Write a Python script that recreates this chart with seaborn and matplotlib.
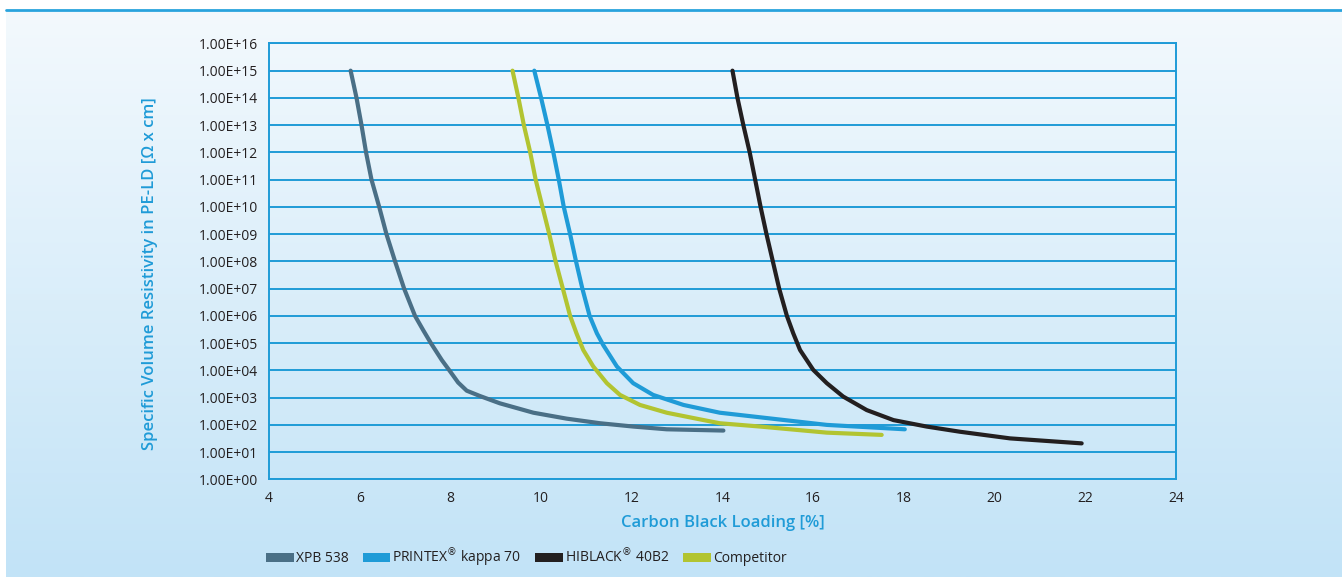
import matplotlib
matplotlib.use('Agg')
import matplotlib.pyplot as plt
import numpy as np
import pandas as pd
import seaborn as sns
from matplotlib.colors import LinearSegmentedColormap
from matplotlib.lines import Line2D
from matplotlib.patches import Patch

# carbon black loading [%] and resistivity [Ohm x cm]
xpb_x = [5.80, 5.93, 6.04, 6.14, 6.26, 6.43, 6.59, 6.78, 6.98, 7.22, 7.40, 7.57,
         7.81, 8.0, 8.17, 8.36, 8.65, 9.09, 9.83, 10.56, 11.30, 12.03, 12.77, 14.02]
xpb_y = [1e15, 1e14, 1e13, 1e12, 1e11, 1e10, 1e9, 1e8, 1e7, 1e6, 3.0e5, 1e5,
         2.4e4, 8.9e3, 3.6e3, 1.8e3, 1.15e3, 6.2e2, 2.8e2, 1.7e2, 1.15e2, 8.7e1, 6.9e1, 6.2e1]

printex_x = [9.85, 10.0, 10.14, 10.27, 10.39, 10.5, 10.64, 10.77, 10.91, 11.07,
             11.23, 11.37, 11.67, 12.03, 12.47, 13.14, 13.94, 14.83, 16.3, 18.02]
printex_y = [1e15, 1e14, 1e13, 1e12, 1e11, 1e10, 1e9, 1e8, 1e7, 1e6,
             2.3e5, 8.5e4, 1.4e4, 3.4e3, 1.26e3, 5.4e2, 2.8e2, 1.9e2, 1.0e2, 6.9e1]

hiblack_x = [14.22, 14.33, 14.46, 14.6, 14.72, 14.84, 14.97, 15.11, 15.25, 15.42,
             15.56, 15.71, 16.0, 16.30, 16.66, 17.18, 17.77, 18.50, 19.24, 20.34, 21.92]
hiblack_y = [1e15, 1e14, 1e13, 1e12, 1e11, 1e10, 1e9, 1e8, 1e7, 1e6,
             2.3e5, 5.6e4, 1.05e4, 3.4e3, 1.1e3, 3.5e2, 1.5e2, 8.7e1, 5.6e1, 3.2e1, 2.1e1]

competitor_x = [9.37, 9.50, 9.62, 9.76, 9.88, 10.03, 10.18, 10.32, 10.48, 10.64,
                10.78, 10.93, 11.15, 11.45, 11.74, 12.18, 12.77, 13.50, 13.94, 14.83,
                16.3, 17.51]
competitor_y = [1e15, 1e14, 1e13, 1e12, 1e11, 1e10, 1e9, 1e8, 1e7, 1e6,
                2.3e5, 5.6e4, 1.4e4, 3.4e3, 1.26e3, 5.4e2, 2.8e2, 1.6e2, 1.15e2, 8.7e1,
                5.2e1, 4.3e1]

series_names = ['XPB 538', 'PRINTEX$^{\u00ae}$ kappa 70', 'HIBLACK$^{\u00ae}$ 40B2', 'Competitor']
series_colors = ['#4a6f86', '#1f9bd7', '#231f20', '#b2c431']

x_ticks = [4, 6, 8, 10, 12, 14, 16, 18, 20, 22, 24]
y_exponents = list(range(0, 17))

frames = []
for name, xs, ys in zip(series_names,
                        [xpb_x, printex_x, hiblack_x, competitor_x],
                        [xpb_y, printex_y, hiblack_y, competitor_y]):
    frames.append(pd.DataFrame({'loading': xs, 'resistivity': ys, 'series': name}))
df = pd.concat(frames, ignore_index=True)

sns.set_style('white')
plt.rcParams['font.family'] = ['Open Sans', 'DejaVu Sans']

blue = '#1f9bd7'
dark = '#231f20'

fig = plt.figure(figsize=(13.42, 5.77), dpi=100)

# gradient background panel
bg = fig.add_axes([6 / 1342, 0, 1 - 6 / 1342, 1 - 11 / 577], zorder=-10)
grad_cmap = LinearSegmentedColormap.from_list('bg', ['#f3f9fd', '#c2e3f7'])
bg.imshow(np.linspace(0, 1, 256).reshape(-1, 1), aspect='auto', cmap=grad_cmap)
bg.axis('off')
fig.add_artist(Line2D([6 / 1342, 1], [1 - 10 / 577, 1 - 10 / 577], color='#29a3dd', lw=2))

ax = fig.add_axes([269 / 1342, 1 - 479.4 / 577, 907 / 1342, 436 / 577])
ax.patch.set_alpha(0)

for name, color in zip(series_names, series_colors):
    sns.lineplot(data=df[df.series == name], x='loading', y='resistivity',
                 color=color, lw=3, ax=ax, legend=False, solid_joinstyle='round')

ax.set_yscale('log')
ax.set_ylim(1, 1e16)
ax.set_xlim(4, 24)
ax.set_xticks(x_ticks)
ax.set_xticklabels([str(t) for t in x_ticks])
ax.set_yticks([10.0 ** e for e in y_exponents])
ax.set_yticklabels(['1.00E+%02d' % e for e in y_exponents])
ax.yaxis.set_minor_locator(matplotlib.ticker.NullLocator())

ax.grid(axis='y', color=blue, lw=1.4)
ax.set_axisbelow(True)
for s in ax.spines.values():
    s.set_color(blue)
    s.set_linewidth(1.4)

ax.tick_params(axis='x', direction='inout', length=6, width=1.2, color=blue,
               labelsize=10, labelcolor=dark, pad=5)
ax.tick_params(axis='y', length=0, labelsize=10, labelcolor=dark, pad=8)

ax.set_xlabel('Carbon Black Loading [%]', color=blue, fontsize=12, fontweight='semibold')
ax.set_ylabel('Specific Volume Resistivity in PE-LD [\u03a9 x cm]', color=blue,
              fontsize=12, fontweight='semibold')
ax.xaxis.set_label_coords(0.5, -0.082)
ax.yaxis.set_label_coords(-0.122, 0.471)

handles = [Patch(facecolor=c, edgecolor='none') for c in series_colors]
fig.legend(handles, series_names, loc='center left',
           bbox_to_anchor=(266 / 1342, 1 - 558 / 577), ncol=4, frameon=False,
           fontsize=10, handlelength=2.0, handleheight=0.7, handletextpad=0.15,
           columnspacing=1.0, borderpad=0, borderaxespad=0, labelcolor=dark)

plt.savefig('out.png', dpi=100)
